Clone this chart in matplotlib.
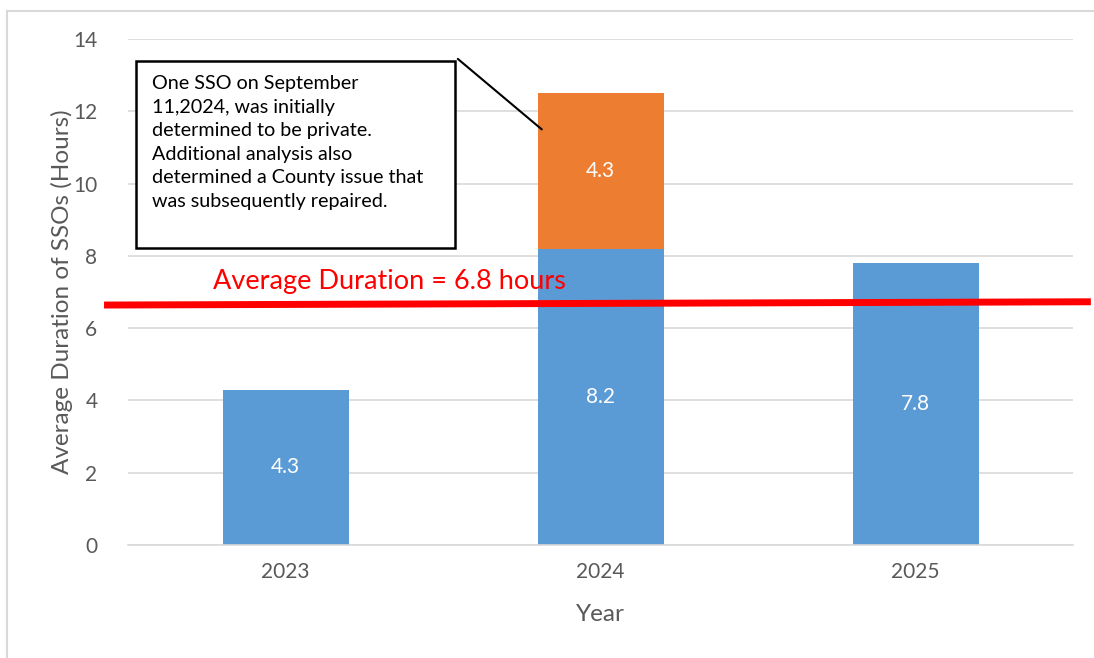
import matplotlib.pyplot as plt
from matplotlib.lines import Line2D
from matplotlib.patches import Rectangle

plt.rcParams['font.family'] = ['Lato', 'DejaVu Sans']

years = ["2023", "2024", "2025"]
county = [4.3, 8.2, 7.8]
private_first = [0, 4.3, 0]
avg_duration = 6.8
avg_line_ends = [6.64, 6.73]
yticks = [0, 2, 4, 6, 8, 10, 12, 14]
note = ("One SSO on September\n11,2024, was initially\ndetermined to be private.\n"
        "Additional analysis also\ndetermined a County issue that\nwas subsequently repaired.")

blue = "#5b9bd5"
orange = "#ed7d31"
grey_txt = "#595959"

fig = plt.figure(figsize=(10.94, 6.58), dpi=100)
ax = fig.add_axes([0.117, 0.1717, 0.864, 0.769])

x = range(len(years))
ax.bar(x, county, width=0.4, color=blue, zorder=2)
ax.bar(x, private_first, width=0.4, bottom=county, color=orange, zorder=2)

for i, v in enumerate(county):
    ax.text(i, v / 2, f"{v}", ha="center", va="center", color="white", fontsize=15, zorder=3)
for i, v in enumerate(private_first):
    if v > 0:
        ax.text(i, county[i] + v / 2, f"{v}", ha="center", va="center", color="white",
                fontsize=15, zorder=3)

ax.set_xlim(-0.5, 2.5)
ax.set_ylim(0, 14)
ax.set_yticks(yticks)
ax.set_xticks(list(x))
ax.set_xticklabels(years)
ax.tick_params(length=0, labelsize=15, labelcolor=grey_txt, pad=12)
ax.tick_params(axis="y", pad=22)
ax.grid(axis="y", color="#d9d9d9", linewidth=1.2, zorder=0)
for s in ["top", "right", "left"]:
    ax.spines[s].set_visible(False)
ax.spines["bottom"].set_color("#d9d9d9")
ax.spines["bottom"].set_linewidth(1.2)
ax.set_ylabel("Average Duration of SSOs (Hours)", fontsize=17.5, color=grey_txt, labelpad=0)
ax.set_xlabel("Year", fontsize=17.5, color=grey_txt, labelpad=16)

# average line, runs slightly past the plot area
ax.plot([-0.565, 2.545], avg_line_ends, color="#ff0000", linewidth=5, clip_on=False, zorder=4)
ax.text(-0.23, 7.3, f"Average Duration = {avg_duration} hours", color="#ff0000",
        fontsize=19.5, ha="left", va="center", zorder=4)

# callout box with pointer
ax.annotate("", xy=(0.82, 11.45), xytext=(0.54, 13.5),
            arrowprops=dict(arrowstyle="-", color="black", lw=1.5), zorder=5)
fig.patches.append(Rectangle((136 / 1094, 1 - 248 / 658), 319 / 1094, 187 / 658,
                             transform=fig.transFigure, facecolor="white",
                             edgecolor="black", linewidth=1.8, zorder=6))
fig.text(152 / 1094, 1 - 75 / 658, note, fontsize=14.2, va="top", ha="left",
         linespacing=1.47, zorder=7)

# outer frame of the pasted chart
fig.add_artist(Line2D([7 / 1094, 1], [1 - 11 / 658] * 2, transform=fig.transFigure,
                      color="#d9d9d9", linewidth=1.5))
fig.add_artist(Line2D([7 / 1094] * 2, [0, 1 - 11 / 658], transform=fig.transFigure,
                      color="#d9d9d9", linewidth=1.5))

fig.savefig("out.png", dpi=100)
